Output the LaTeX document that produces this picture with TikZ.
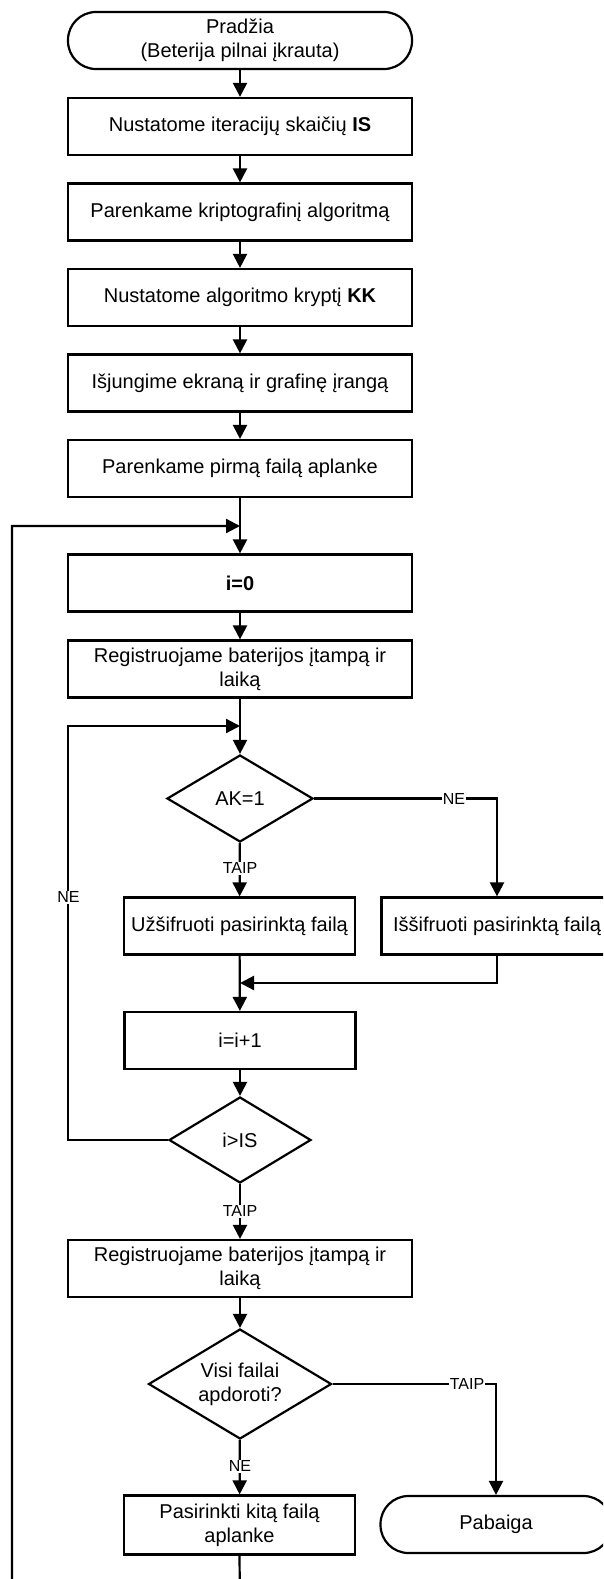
\documentclass[tikz,border=0pt]{standalone}
\usepackage{fontspec}
\setmainfont{Liberation Sans}
\usetikzlibrary{arrows.meta,shapes.geometric}
\tikzset{
  every picture/.style={x=1pt,y=-1pt},
  conn/.style={line width=2.2pt},
  arr/.style={conn,-{Triangle[length=14pt,width=14pt]}},
  box/.style={draw,line width=2.2pt,minimum width=344pt,minimum height=57pt,inner sep=0pt,
    align=center,font=\fontsize{20}{24}\selectfont},
  sbox/.style={box,minimum width=231pt},
  term/.style={box,rounded corners=28pt},
  sterm/.style={sbox,rounded corners=28pt},
  dec/.style={draw,line width=2.2pt,diamond,inner sep=0pt,align=center,
    font=\fontsize{20}{24}\selectfont},
  lbl/.style={fill=white,inner sep=1pt,font=\fontsize{16}{18}\selectfont}
}
\begin{document}
\begin{tikzpicture}
\useasboundingbox (0,0) rectangle (603,1579);
\clip (0,0) rectangle (603,1579);
% nodes
\node[term] (start) at (240,40.5) {Pradžia\\(Beterija pilnai įkrauta)};
\node[box] (b1) at (240,126.5) {Nustatome iteracijų skaičių \textbf{IS}};
\node[box] (b2) at (240,212) {Parenkame kriptografinį algoritmą};
\node[box] (b3) at (240,297.5) {Nustatome algoritmo kryptį \textbf{KK}};
\node[box] (b4) at (240,383) {Išjungime ekraną ir grafinę įrangą};
\node[box] (b5) at (240,468.5) {Parenkame pirmą failą aplanke};
\coordinate (j1) at (240,526);
\node[box] (i0) at (240,583) {\textbf{i=0}};
\node[box] (reg1) at (240,669) {Registruojame baterijos įtampą ir\\laiką};
\coordinate (j2) at (240,726);
\node[dec,minimum width=146pt,minimum height=87pt] (ak) at (240,798.5) {AK=1};
\node[sbox] (uz) at (239.5,926) {Užšifruoti pasirinktą failą};
\node[sbox] (is) at (497,926) {Iššifruoti pasirinktą failą};
\coordinate (m) at (240,983);
\node[sbox] (inc) at (240,1040.5) {i=i+1};
\node[dec,minimum width=142pt,minimum height=86pt] (gt) at (240,1140) {i>IS};
\node[box] (reg2) at (240,1268.5) {Registruojame baterijos įtampą ir\\laiką};
\node[dec,aspect=1.66,minimum width=183pt,minimum height=110pt] (visi) at (240,1384) {Visi failai\\apdoroti?};
\node[sbox,minimum height=59pt] (pas) at (239.5,1525) {Pasirinkti kitą failą\\aplanke};
\node[sterm] (pab) at (496,1524.5) {Pabaiga};
% connectors
\draw[arr] (start) -- (b1);
\draw[arr] (b1) -- (b2);
\draw[arr] (b2) -- (b3);
\draw[arr] (b3) -- (b4);
\draw[arr] (b4) -- (b5);
\draw[arr] (b5) -- (i0);
\draw[arr] (i0) -- (reg1);
\draw[arr] (reg1) -- (ak);
\draw[arr] (ak) -- (uz);
\draw[arr] (ak.east) -| (is.north);
\draw[arr] (uz) -- (inc);
\draw[arr] (is.south) |- (m);
\draw[arr] (inc) -- (gt);
\draw[arr] (gt.west) -| (68,900) |- (j2);
\draw[arr] (gt) -- (reg2);
\draw[arr] (reg2) -- (visi);
\draw[arr] (visi) -- (pas);
\draw[arr] (visi.east) -| (pab.north);
\draw[arr] (pas.south) -- (240,1610) -| (12,1000) |- (j1);
% labels
\node[lbl] (l1) at (454,798.5) {NE};
\node[lbl] (l2) at (240,868) {TAIP};
\node[lbl] (l3) at (68.5,897) {NE};
\node[lbl] (l4) at (240,1211) {TAIP};
\node[lbl] (l5) at (467,1384) {TAIP};
\node[lbl] (l6) at (240,1466) {NE};
\end{tikzpicture}
\end{document}
